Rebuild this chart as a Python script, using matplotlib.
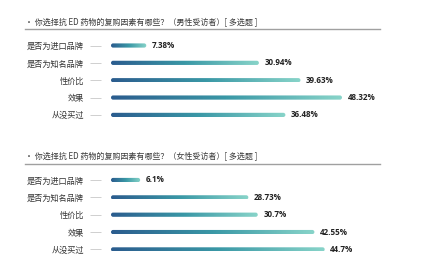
import matplotlib
matplotlib.use("Agg")
import matplotlib.pyplot as plt
import numpy as np
from matplotlib.colors import LinearSegmentedColormap
from matplotlib.patches import FancyBboxPatch

plt.rcParams['font.family'] = ['Noto Sans CJK SC', 'DejaVu Sans']

categories = ["是否为进口品牌", "是否为知名品牌", "性价比", "效果", "从没买过"]
male_values = [7.38, 30.94, 39.63, 48.32, 36.48]
male_labels = ["7.38%", "30.94%", "39.63%", "48.32%", "36.48%"]
female_values = [6.1, 28.73, 30.7, 42.55, 44.7]
female_labels = ["6.1%", "28.73%", "30.7%", "42.55%", "44.7%"]
titles = ["• 你选择抗 ED 药物的复购因素有哪些？（男性受访者）[ 多选题 ]",
          "• 你选择抗 ED 药物的复购因素有哪些？（女性受访者）[ 多选题 ]"]

W, H = 445, 274
fig = plt.figure(figsize=(W / 100, H / 100), dpi=100)
fig.patch.set_facecolor("white")

cmap = LinearSegmentedColormap.from_list("g", ["#2b5c8e", "#3a98a6", "#88d4c9"])
grad = np.linspace(0, 1, 256).reshape(1, -1)

px_per_unit = 4.78
row_px = 17.35
x0 = 111
xmax = 60

def panel(title, title_y, line_y, first_row_y, values, labels):
    fig.text(25 / W, 1 - title_y / H, title, fontsize=5.8, color="#3a3a3a",
             va="center", ha="left")
    fig.add_artist(plt.Line2D([25 / W, 380 / W], [1 - line_y / H, 1 - line_y / H],
                              color="#a0a0a0", lw=1.0, transform=fig.transFigure))
    top = first_row_y - row_px / 2
    height = row_px * 5
    ax = fig.add_axes([x0 / W, 1 - (top + height) / H, px_per_unit * xmax / W, height / H])
    ax.set_xlim(0, xmax)
    ax.set_ylim(4.5, -0.5)
    for s in ax.spines.values():
        s.set_visible(False)
    ax.spines['left'].set_position(('outward', 7))
    ax.set_xticks([])
    ax.set_yticks(range(len(categories)))
    ax.set_yticklabels(categories, fontsize=5.9, color="#333333")
    ax.tick_params(axis='y', length=8, width=0.6, color="#c8c8c8", pad=4.5)
    bh = 4.2 / row_px
    aspect = px_per_unit / row_px
    for i, (v, lab) in enumerate(zip(values, labels)):
        im = ax.imshow(grad, cmap=cmap, aspect='auto',
                       extent=(0, v, i + bh / 2, i - bh / 2), interpolation='bilinear')
        r = 2.1 / px_per_unit
        patch = FancyBboxPatch((0, i - bh / 2), v, bh,
                               boxstyle=f"round,pad=0,rounding_size={r}",
                               mutation_aspect=aspect, transform=ax.transData,
                               facecolor='none', edgecolor='none')
        ax.add_patch(patch)
        im.set_clip_path(patch)
        ax.text(v + 5.5 / px_per_unit, i, lab, fontsize=5.8, fontweight='bold',
                color="#222222", va="center", ha="left", family=['Open Sans', 'DejaVu Sans'])
    ax.set_xlim(0, xmax)
    ax.set_ylim(4.5, -0.5)

panel(titles[0], 22.5, 29, 45.5, male_values, male_labels)
panel(titles[1], 157, 164, 180, female_values, female_labels)

fig.savefig("out.png", dpi=100, facecolor="white")
